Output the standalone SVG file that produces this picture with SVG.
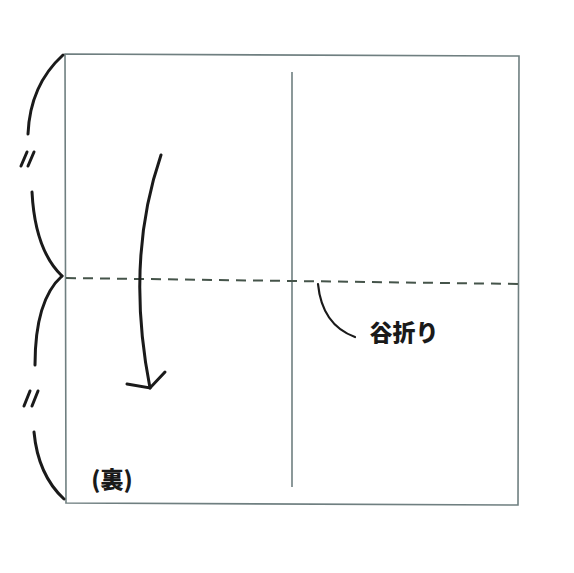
<svg xmlns="http://www.w3.org/2000/svg" width="574" height="573" viewBox="0 0 574 573">
<style>
.edge{fill:none;stroke:#6f7f80;stroke-width:1.6}
.ink{fill:none;stroke:#1a1a1a;stroke-width:3;stroke-linecap:round}
.thin{fill:none;stroke:#1a1a1a;stroke-width:2.2;stroke-linecap:round}
.dash{fill:none;stroke:#45544a;stroke-width:2;stroke-dasharray:10 7}
.lbl{font-family:"Noto Sans CJK JP","Noto Sans CJK SC",sans-serif;font-weight:900;font-size:23px;fill:#1a1a1a}
</style>
<rect width="574" height="573" fill="#ffffff"/>
<g id="paper">
<path class="edge" d="M65,54 L519,56 L518,505 L66,503 Z"/>
<path class="edge" d="M292,72 L292,487" stroke-width="1.3"/>
</g>
<g id="connectors">
<path class="dash" d="M66,278 L520,284"/>
<path class="ink" d="M63,55 Q30,85 28,134"/>
<path class="ink" d="M32,192 Q35,250 62,276"/>
<path class="ink" d="M62,276 Q35,300 35,365"/>
<path class="ink" d="M34,432 Q38,475 64,499"/>
<path class="ink" d="M161,155 Q125,260 150,388"/>
<path class="ink" d="M127,384 L150,388 L165,372"/>
<path class="thin" d="M318,284 Q322,325 355,337"/>
</g>
<g id="marks">
<path class="ink" d="M27,152 L21,166 M34,152 L28,166" stroke-width="2.5"/>
<path class="ink" d="M30,391 L24,406 M38,391 L32,406" stroke-width="2.5"/>
</g>
<g id="label-valley"><text class="lbl" x="404" y="341" text-anchor="middle">谷折り</text></g>
<g id="label-back"><text class="lbl" x="112" y="488" text-anchor="middle">(裏)</text></g>
</svg>
